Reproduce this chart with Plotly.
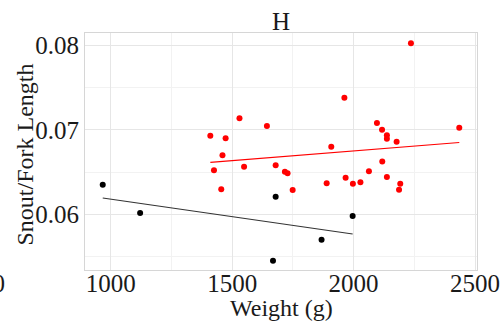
import numpy as np
import plotly.graph_objects as go

# Red group
red_weight = [1410, 1425, 1460, 1455, 1473, 1530, 1549, 1643, 1679, 1717, 1728, 1749,
              1908, 1889, 1962, 1967, 1997, 2028, 2063, 2096, 2117, 2118, 2137, 2137,
              2137, 2177, 2187, 2192, 2236, 2435]
red_ratio = [0.06933, 0.06522, 0.0670, 0.06296, 0.06901, 0.07138, 0.06565, 0.07047,
             0.06581, 0.06506, 0.06486, 0.06289, 0.06802, 0.06368, 0.07383, 0.06435,
             0.06364, 0.06379, 0.0651, 0.07083, 0.07004, 0.06625, 0.06937, 0.06897,
             0.06443, 0.06862, 0.06292, 0.06364, 0.08028, 0.07028]

# Black group
black_weight = [967, 1121, 1679, 1996, 1868, 1668]
black_ratio = [0.06352, 0.06016, 0.06209, 0.05980, 0.05700, 0.05451]

x_ticks = [1000, 1500, 2000, 2500]
y_ticks = [0.06, 0.07, 0.08]

title_text = "H"
x_title = "Weight (g)"
y_title = "Snout/Fork Length"

FONT = "Liberation Serif"

def fit_line(xs, ys):
    xs = np.array(xs, float)
    ys = np.array(ys, float)
    b, a = np.polyfit(xs, ys, 1)
    xr = np.array([xs.min(), xs.max()])
    return xr, a + b * xr

fig = go.Figure()
rx, ry = fit_line(red_weight, red_ratio)
bx, by = fit_line(black_weight, black_ratio)

fig.add_trace(go.Scatter(x=rx, y=ry, mode="lines", line=dict(color="#FF0000", width=1.1),
                         showlegend=False, hoverinfo="skip"))
fig.add_trace(go.Scatter(x=bx, y=by, mode="lines", line=dict(color="#333333", width=1.1),
                         showlegend=False, hoverinfo="skip"))
fig.add_trace(go.Scatter(x=red_weight, y=red_ratio, mode="markers",
                         marker=dict(color="#FF0000", size=6), showlegend=False))
fig.add_trace(go.Scatter(x=black_weight, y=black_ratio, mode="markers",
                         marker=dict(color="#000000", size=6), showlegend=False))

minor_grid = dict(showgrid=True, gridcolor="#F2F2F2", gridwidth=0.6)
tickfont = dict(family=FONT, size=25, color="#1A1A1A")
titlefont = dict(family=FONT, size=24, color="#1A1A1A")

fig.update_layout(
    width=503, height=325,
    margin=dict(l=85, r=26, t=33, b=55),
    paper_bgcolor="white", plot_bgcolor="white",
    font=dict(family=FONT, size=24, color="#1A1A1A"),
    title=dict(text=title_text, x=0.5, xanchor="center", xref="paper",
               y=1, yref="paper", yanchor="bottom", pad=dict(b=3),
               font=dict(family=FONT, size=25, color="#1A1A1A")),
    xaxis=dict(range=[894, 2508], tickvals=x_ticks, ticks="", showline=True,
               linecolor="#D6D6D6", linewidth=1, mirror=True, zeroline=False,
               gridcolor="#E6E6E6", gridwidth=1, automargin=False,
               ticklabelstandoff=-9,
               minor=dict(dtick=250, **minor_grid),
               tickfont=tickfont),
    yaxis=dict(range=[0.0534, 0.0815], tickvals=y_ticks, tickformat=".2f", ticks="",
               showline=True, linecolor="#D6D6D6", linewidth=1, mirror=True,
               zeroline=False, gridcolor="#E6E6E6", gridwidth=1, automargin=False,
               minor=dict(tickvals=[0.055, 0.065, 0.075], **minor_grid),
               tickfont=tickfont),
)

# axis titles
fig.add_annotation(text=x_title, xref="paper", yref="paper", x=0.5, y=0,
                   xanchor="center", yanchor="middle", yshift=-38, showarrow=False,
                   font=titlefont)
fig.add_annotation(text=y_title, xref="paper", yref="paper", x=0, y=0.5,
                   xanchor="center", yanchor="middle", xshift=-61, yshift=-3,
                   textangle=-90, showarrow=False, font=titlefont)

# cut-off tick label from neighbouring panel at the far left edge
fig.add_annotation(text="2500", xref="paper", yref="paper", x=-85/392, xshift=7,
                   xanchor="right", y=0, yanchor="middle", yshift=-13, showarrow=False,
                   font=tickfont)

fig.write_html("out.html")
